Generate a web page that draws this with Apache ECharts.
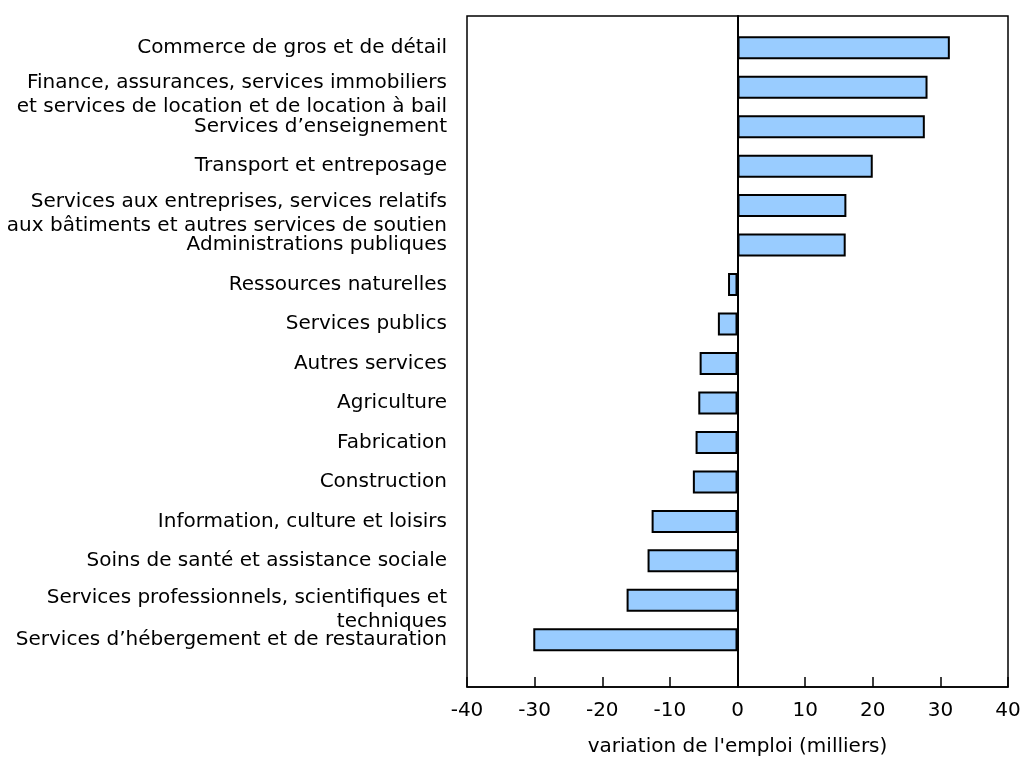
<!DOCTYPE html>
<html>
<head>
<meta charset="utf-8">
<script src="https://cdn.jsdelivr.net/npm/echarts@6/dist/echarts.min.js"></script>
<style>
html,body{margin:0;padding:0;background:#fff;}
#chart{width:1022px;height:759px;}
</style>
</head>
<body>
<div id="chart"></div>
<script>
const categories = [
  "Commerce de gros et de détail",
  "Finance, assurances, services immobiliers\net services de location et de location à bail",
  "Services d’enseignement",
  "Transport et entreposage",
  "Services aux entreprises, services relatifs\naux bâtiments et autres services de soutien",
  "Administrations publiques",
  "Ressources naturelles",
  "Services publics",
  "Autres services",
  "Agriculture",
  "Fabrication",
  "Construction",
  "Information, culture et loisirs",
  "Soins de santé et assistance sociale",
  "Services professionnels, scientifiques et\ntechniques",
  "Services d’hébergement et de restauration"
];
const values = [31.4, 28.1, 27.7, 20.0, 16.1, 16.0, -1.4, -2.9, -5.6, -5.8, -6.2, -6.6, -12.7, -13.3, -16.4, -30.2];
const xTicks = { min: -40, max: 40, interval: 10 };
const xAxisTitle = "variation de l'emploi (milliers)";

const FONT = "'DejaVu Sans', Verdana, sans-serif";
const FS = 20;
const catData = categories.concat(['']);

function labelFormatter(v) {
  if (v.indexOf('\n') < 0) return '{t|' + v + '}';
  const lines = v.split('\n');
  const sp = lines[1].length < 15 ? 'c' : (v.indexOf('Finance') === 0 ? 'a' : 'b');
  return '{' + sp + '| }\n' + lines.map(l => '{t|' + l + '}').join('\n');
}

const chart = echarts.init(document.getElementById('chart'));
chart.setOption({
  animation: false,
  backgroundColor: '#fff',
  grid: [
    { left: 467, top: 16, width: 541, height: 671, show: true, borderColor: '#000', borderWidth: 1.5, backgroundColor: 'transparent', outerBoundsMode: 'none', containLabel: false },
    { left: 467, top: 28, width: 541, height: 671, outerBoundsMode: 'none', containLabel: false }
  ],
  xAxis: [
    {
      gridIndex: 0, type: 'value', min: xTicks.min, max: xTicks.max, interval: xTicks.interval,
      axisLine: { show: true, onZero: false, lineStyle: { color: '#000', width: 1.5 } },
      axisTick: { show: true, inside: true, length: 10, lineStyle: { color: '#000', width: 1.5 } },
      axisLabel: { margin: 14, fontSize: FS, color: '#000', fontFamily: FONT },
      splitLine: { show: false },
      name: xAxisTitle, nameLocation: 'middle', nameGap: 50,
      nameTextStyle: { fontSize: FS, color: '#000', fontFamily: FONT }
    },
    { gridIndex: 1, type: 'value', min: xTicks.min, max: xTicks.max, interval: xTicks.interval, show: false }
  ],
  yAxis: [
    {
      gridIndex: 0, type: 'value', min: 0, max: 1,
      axisLine: { show: true, onZero: true, lineStyle: { color: '#000', width: 2 } },
      axisTick: { show: false }, axisLabel: { show: false }, splitLine: { show: false }
    },
    {
      gridIndex: 1, type: 'category', inverse: true, data: catData,
      axisLine: { show: false }, axisTick: { show: false }, splitLine: { show: false },
      axisLabel: {
        interval: 0, margin: 20, color: '#000', align: 'right', hideOverlap: false,
        fontSize: FS, fontFamily: FONT,
        formatter: labelFormatter,
        rich: {
          t: { fontSize: FS, lineHeight: 24, fontFamily: FONT, color: '#000' },
          a: { fontSize: 1, lineHeight: 15, height: 15 },
          b: { fontSize: 1, lineHeight: 16, height: 16 },
          c: { fontSize: 1, lineHeight: 18, height: 18 }
        }
      }
    }
  ],
  series: [
    {
      type: 'bar', xAxisIndex: 1, yAxisIndex: 1, data: values, barWidth: 23,
      itemStyle: { color: '#99ccff', borderColor: '#000', borderWidth: 2 }
    }
  ]
});
</script>
</body>
</html>
